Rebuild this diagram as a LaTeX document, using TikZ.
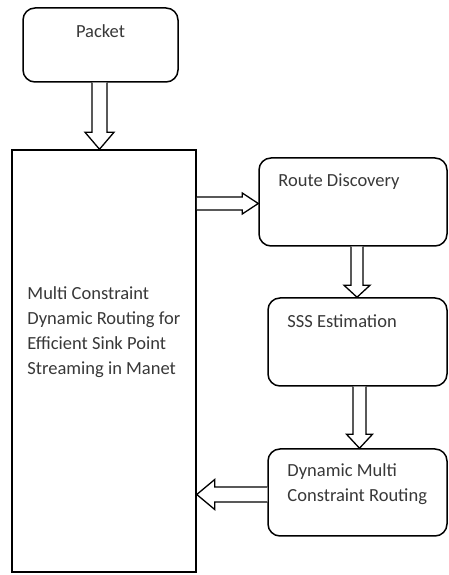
\documentclass[tikz,border=0pt]{standalone}
\usepackage{fontspec}
\setmainfont{Carlito}
\usetikzlibrary{calc}
\tikzset{
  box/.style={draw, line width=1.5pt, rounded corners=12pt, inner sep=0pt},
  bigbox/.style={draw, line width=1.5pt, inner sep=0pt},
  txt/.style={inner sep=0pt, text=black!78, font=\fontsize{18.5}{25}\selectfont, align=left},
  blockarr/.style={draw, line width=1.3pt, fill=white, line join=miter}
}
% vertical block arrow: from, to, dx, half shaft, half head, head length
\newcommand\vblock[6]{%
 \draw[blockarr] ($(#1.south)+(#3-#4,0)$) -- ($(#1.south |- #2.north)+(#3-#4,#6)$) -- ($(#1.south |- #2.north)+(#3-#5,#6)$) -- ($(#1.south |- #2.north)+(#3,0)$) -- ($(#1.south |- #2.north)+(#3+#5,#6)$) -- ($(#1.south |- #2.north)+(#3+#4,#6)$) -- ($(#1.south)+(#3+#4,0)$);}
% rightward block arrow
\newcommand\rblock[6]{%
 \draw[blockarr] ($(#1.east |- #2.west)+(0,#3+#4)$) -- ($(#2.west)+(-#6,#3+#4)$) -- ($(#2.west)+(-#6,#3+#5)$) -- ($(#2.west)+(0,#3)$) -- ($(#2.west)+(-#6,#3-#5)$) -- ($(#2.west)+(-#6,#3-#4)$) -- ($(#1.east |- #2.west)+(0,#3-#4)$);}
% leftward block arrow
\newcommand\lblock[6]{%
 \draw[blockarr] ($(#1.west)+(0,#3+#4)$) -- ($(#2.east |- #1.west)+(#6,#3+#4)$) -- ($(#2.east |- #1.west)+(#6,#3+#5)$) -- ($(#2.east |- #1.west)+(0,#3)$) -- ($(#2.east |- #1.west)+(#6,#3-#5)$) -- ($(#2.east |- #1.west)+(#6,#3-#4)$) -- ($(#1.west)+(0,#3-#4)$);}
\begin{document}
\begin{tikzpicture}[x=1pt,y=1pt]
\useasboundingbox (0,0) rectangle (448,575);
\node[box, minimum width=155pt, minimum height=74pt,
  label={[txt,anchor=center,yshift=-24pt]north:Packet}] (packet) at (100.5,530) {};
\node[bigbox, minimum width=184pt, minimum height=422pt,
  label={[txt,anchor=west,xshift=16pt,yshift=28.5pt]west:{Multi Constraint\\Dynamic Routing for\\Efficient Sink Point\\Streaming in Manet}}] (big) at (104,214) {};
\node[box, minimum width=188pt, minimum height=88pt,
  label={[txt,anchor=west,xshift=20pt,yshift=-24pt]north west:Route Discovery}] (rd) at (353,373) {};
\node[box, minimum width=179pt, minimum height=88pt,
  label={[txt,anchor=west,xshift=20pt,yshift=-24pt]north west:SSS Estimation}] (sss) at (357.5,233) {};
\node[box, minimum width=179pt, minimum height=87pt,
  label={[txt,anchor=west,xshift=20pt,yshift=-35.5pt]north west:{Dynamic Multi\\Constraint Routing}}] (dmc) at (357.5,82.5) {};
\vblock{packet}{big}{-1}{7.5}{14.5}{17}
\rblock{big}{rd}{-1.5}{6.5}{10.5}{16}
\vblock{rd}{sss}{4}{6}{13}{12}
\vblock{sss}{dmc}{2}{6.5}{13}{14}
\lblock{dmc}{big}{-2}{7.5}{15}{18}
\end{tikzpicture}
\end{document}
